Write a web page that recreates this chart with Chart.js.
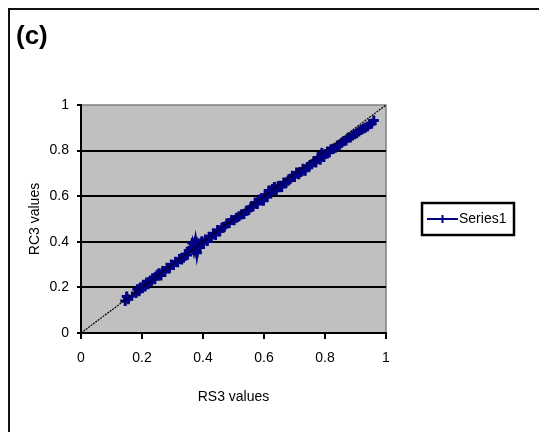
<!DOCTYPE html>
<html>
<head>
<meta charset="utf-8">
<script src="https://cdn.jsdelivr.net/npm/chart.js@4/dist/chart.umd.min.js"></script>
<style>
  html, body { margin: 0; padding: 0; background: #fff; }
  canvas { display: block; }
</style>
</head>
<body>
<canvas id="chart" width="539" height="432"></canvas>
<script>
// Labels
const panelTitle = '(c)';
const seriesName = 'Series1';
const xAxisTitle = 'RS3 values';
const yAxisTitle = 'RC3 values';

// Axis ticks
const tickValues = [0, 0.2, 0.4, 0.6, 0.8, 1];
const tickLabels = ['0', '0.2', '0.4', '0.6', '0.8', '1'];

// RS3 vs RC3 scatter
const rs3Values = [
  0.145, 0.150, 0.155, 0.180, 0.185, 0.190, 0.195, 0.200, 0.205, 0.210,
  0.215, 0.220, 0.228, 0.235, 0.242, 0.250, 0.256, 0.262, 0.268, 0.275,
  0.282, 0.290, 0.296, 0.303, 0.310, 0.317, 0.323, 0.330, 0.336, 0.342,
  0.348, 0.354, 0.360, 0.365, 0.370, 0.375, 0.380, 0.385, 0.390, 0.396,
  0.402, 0.408, 0.414, 0.420, 0.427, 0.434, 0.441, 0.448, 0.455, 0.462,
  0.470, 0.478, 0.486, 0.494, 0.502, 0.510, 0.518, 0.526, 0.534, 0.542,
  0.550, 0.557, 0.564, 0.571, 0.578, 0.585, 0.592, 0.598, 0.604, 0.610,
  0.616, 0.622, 0.628, 0.634, 0.640, 0.646, 0.652, 0.658, 0.665, 0.672,
  0.679, 0.686, 0.693, 0.700, 0.707, 0.714, 0.721, 0.728, 0.735, 0.742,
  0.749, 0.756, 0.763, 0.770, 0.777, 0.784, 0.790, 0.796, 0.802, 0.808,
  0.814, 0.820, 0.827, 0.834, 0.841, 0.848, 0.855, 0.862, 0.869, 0.876,
  0.883, 0.890, 0.897, 0.904, 0.911, 0.918, 0.925, 0.932, 0.939, 0.946,
  0.953, 0.960
];
const rc3Values = [
  0.140, 0.160, 0.148, 0.175, 0.192, 0.183, 0.200, 0.196, 0.212, 0.204,
  0.222, 0.214, 0.230, 0.240, 0.236, 0.255, 0.262, 0.252, 0.272, 0.268,
  0.286, 0.284, 0.300, 0.298, 0.312, 0.310, 0.325, 0.322, 0.330, 0.345,
  0.342, 0.360, 0.372, 0.395, 0.365, 0.400, 0.352, 0.392, 0.375, 0.402,
  0.396, 0.410, 0.404, 0.422, 0.418, 0.436, 0.430, 0.452, 0.446, 0.462,
  0.466, 0.480, 0.482, 0.496, 0.494, 0.505, 0.512, 0.520, 0.522, 0.536,
  0.540, 0.552, 0.556, 0.572, 0.566, 0.585, 0.590, 0.580, 0.606, 0.598,
  0.625, 0.612, 0.632, 0.640, 0.624, 0.644, 0.646, 0.640, 0.660, 0.658,
  0.668, 0.676, 0.690, 0.684, 0.704, 0.696, 0.706, 0.720, 0.712, 0.728,
  0.734, 0.740, 0.752, 0.748, 0.770, 0.760, 0.790, 0.772, 0.785, 0.796,
  0.792, 0.806, 0.808, 0.812, 0.822, 0.826, 0.834, 0.842, 0.844, 0.856,
  0.858, 0.866, 0.872, 0.876, 0.884, 0.890, 0.896, 0.900, 0.906, 0.916,
  0.918, 0.932
];

// Reference line y = x
const diagonalX = [0, 1];
const diagonalY = [0, 1];

const FONT = "'Liberation Sans', Arial, sans-serif";
const NAVY = '#000080';

// Grey plot area, grey top/right edge, and the outer frame
const plotBackground = {
  id: 'plotBackground',
  beforeDraw(chart) {
    const { ctx, chartArea: a } = chart;
    ctx.save();
    ctx.fillStyle = '#fff';
    ctx.fillRect(0, 0, chart.width, chart.height);
    ctx.strokeStyle = '#111';
    ctx.lineWidth = 2;
    ctx.strokeRect(9, 9, chart.width + 40, chart.height + 40);
    ctx.fillStyle = '#c0c0c0';
    ctx.fillRect(a.left, a.top, a.right - a.left, a.bottom - a.top);
    ctx.strokeStyle = '#808080';
    ctx.lineWidth = 1.5;
    ctx.beginPath();
    ctx.moveTo(a.left, a.top);
    ctx.lineTo(a.right, a.top);
    ctx.lineTo(a.right, a.bottom);
    ctx.stroke();
    ctx.restore();
  }
};

// Boxed legend to the right of the plot
const boxedLegend = {
  id: 'boxedLegend',
  afterDraw(chart) {
    const { ctx, chartArea: a } = chart;
    const ds = chart.data.datasets[0];
    const w = 92, h = 32;
    const x = a.right + 36;
    const y = (a.top + a.bottom) / 2 - h / 2;
    ctx.save();
    ctx.fillStyle = '#fff';
    ctx.fillRect(x, y, w, h);
    ctx.strokeStyle = '#000';
    ctx.lineWidth = 2.5;
    ctx.strokeRect(x, y, w, h);
    const cy = y + h / 2;
    ctx.strokeStyle = ds.borderColor;
    ctx.lineWidth = 2;
    ctx.beginPath();
    ctx.moveTo(x + 5, cy);
    ctx.lineTo(x + 36, cy);
    ctx.moveTo(x + 20.5, cy - 4);
    ctx.lineTo(x + 20.5, cy + 4);
    ctx.stroke();
    ctx.fillStyle = '#000';
    ctx.font = '14px ' + FONT;
    ctx.textBaseline = 'middle';
    ctx.textAlign = 'left';
    ctx.fillText(ds.label, x + 37, cy);
    ctx.restore();
  }
};

const fixedTicks = (scale) => {
  scale.ticks = tickValues.map(v => ({ value: v }));
};
const tickText = (value, index) => tickLabels[index];

new Chart(document.getElementById('chart'), {
  type: 'scatter',
  data: {
    datasets: [
      {
        label: seriesName,
        data: rs3Values.map((x, i) => ({ x, y: rc3Values[i] })),
        showLine: true,
        borderColor: NAVY,
        backgroundColor: NAVY,
        borderWidth: 4,
        pointStyle: 'cross',
        pointRadius: 5,
        pointBorderWidth: 3,
        order: 1
      },
      {
        label: 'y = x',
        data: diagonalX.map((x, i) => ({ x, y: diagonalY[i] })),
        showLine: true,
        borderColor: '#000',
        borderWidth: 1.2,
        borderDash: [2, 1],
        pointRadius: 0,
        order: 0
      }
    ]
  },
  options: {
    responsive: false,
    animation: false,
    events: [],
    layout: { padding: { left: 16, right: 153, top: 0, bottom: 0 } },
    plugins: {
      legend: { display: false },
      tooltip: { enabled: false },
      title: {
        display: true,
        text: panelTitle,
        align: 'start',
        color: '#000',
        font: { family: FONT, size: 26, weight: 'bold', lineHeight: 1.2 },
        padding: { top: 21, bottom: 52.8 }
      }
    },
    scales: {
      x: {
        type: 'linear',
        min: 0,
        max: 1,
        afterBuildTicks: fixedTicks,
        afterFit: (s) => { s.height = 99; },
        border: { color: '#000', width: 2 },
        grid: { drawOnChartArea: false, tickColor: '#000', tickLength: 6, lineWidth: 2 },
        ticks: { callback: tickText, color: '#000', padding: 11, maxRotation: 0,
                 font: { family: FONT, size: 14 } },
        title: { display: true, text: xAxisTitle, color: '#000',
                 font: { family: FONT, size: 14, lineHeight: 1.2 },
                 padding: { top: 0, bottom: 26.6 } }
      },
      y: {
        type: 'linear',
        min: 0,
        max: 1,
        afterBuildTicks: fixedTicks,
        afterFit: (s) => { s.width = 65; },
        border: { color: '#000', width: 2 },
        grid: {
          color: (c) => (c.tick && c.tick.value > 0 && c.tick.value < 1) ? '#000' : 'rgba(0,0,0,0)',
          tickColor: '#000',
          tickLength: 4,
          lineWidth: 2
        },
        ticks: { callback: tickText, color: '#000', padding: 8,
                 font: { family: FONT, size: 14 } },
        title: { display: true, text: yAxisTitle, color: '#000',
                 font: { family: FONT, size: 14, lineHeight: 1.2 },
                 padding: { top: 10.6, bottom: 0 } }
      }
    }
  },
  plugins: [plotBackground, boxedLegend]
});
</script>
</body>
</html>
